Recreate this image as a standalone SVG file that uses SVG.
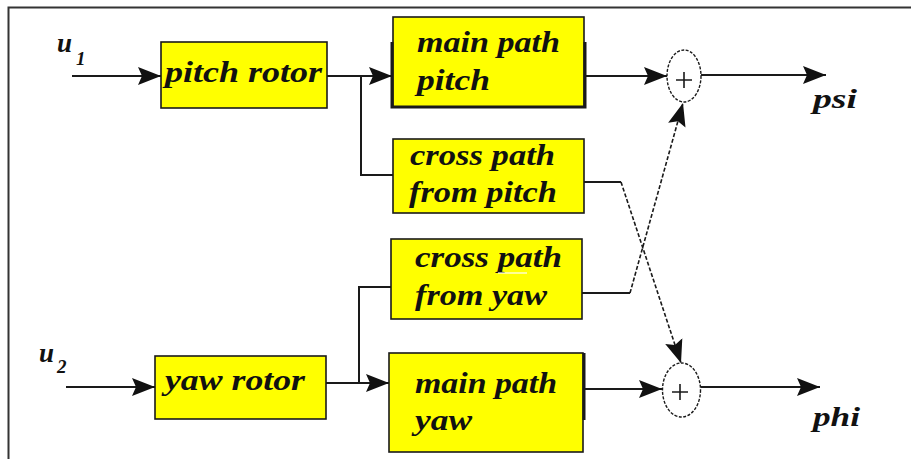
<svg xmlns="http://www.w3.org/2000/svg" width="911" height="459" viewBox="0 0 911 459">
  <style>
    .frame { stroke: #333; stroke-width: 2; fill: none; }
    .box { fill: #ffff00; stroke: #1a1a1a; stroke-width: 1.6; }
    .edge { stroke: #1a1a1a; stroke-width: 3; fill: none; }
    .lbl { font-family: "Liberation Serif", "DejaVu Serif", serif; font-style: italic; font-weight: bold; font-size: 29px; fill: #111; }
    .sig { font-family: "Liberation Serif", "DejaVu Serif", serif; font-style: italic; font-weight: bold; font-size: 27px; fill: #111; }
    .sub { font-family: "Liberation Serif", "DejaVu Serif", serif; font-style: italic; font-weight: bold; font-size: 19px; fill: #111; }
    .wire { stroke: #1a1a1a; stroke-width: 2; fill: none; }
    .dash { stroke: #1a1a1a; stroke-width: 1.6; fill: none; stroke-dasharray: 4 2; }
    .sum { fill: #fff; stroke: #1a1a1a; stroke-width: 1.4; stroke-dasharray: 3 1.5; }
    .plus { stroke: #1a1a1a; stroke-width: 1.6; }
  </style>
  <defs>
    <marker id="arrow" markerUnits="userSpaceOnUse" markerWidth="24" markerHeight="20" viewBox="0 0 24 20" refX="23" refY="10" orient="auto">
      <path d="M0,1 L23,10 L0,19 L4,10 z" fill="#111" stroke="none"/>
    </marker>
  </defs>

  <rect width="911" height="459" fill="#fff"/>
  <!-- outer frame: top and left edges -->
  <path class="frame" d="M911,7.5 H8.5 V459"/>

  <g id="connectors">
    <!-- inputs -->
    <line class="wire" x1="72" y1="76" x2="161" y2="76" marker-end="url(#arrow)"/>
    <line class="wire" x1="66" y1="387" x2="155" y2="387" marker-end="url(#arrow)"/>
    <!-- pitch rotor outputs -->
    <line class="wire" x1="327" y1="76" x2="392" y2="76" marker-end="url(#arrow)"/>
    <polyline class="wire" points="361,76 361,175 393,175"/>
    <!-- yaw rotor outputs -->
    <line class="wire" x1="326" y1="383" x2="389" y2="383" marker-end="url(#arrow)"/>
    <polyline class="wire" points="359,383 359,287 391,287"/>
    <!-- main paths into summers -->
    <line class="wire" x1="586" y1="76" x2="667" y2="76" marker-end="url(#arrow)"/>
    <line class="wire" x1="584" y1="389" x2="662" y2="389" marker-end="url(#arrow)"/>
    <!-- cross paths -->
    <line class="wire" x1="584" y1="182" x2="621" y2="182"/>
    <line class="dash" x1="621" y1="182" x2="681" y2="363" marker-end="url(#arrow)"/>
    <line class="wire" x1="582" y1="293" x2="630" y2="293"/>
    <line class="dash" x1="630" y1="293" x2="683" y2="103" marker-end="url(#arrow)"/>
    <!-- outputs -->
    <line class="wire" x1="701" y1="75" x2="826" y2="75" marker-end="url(#arrow)"/>
    <line class="wire" x1="701" y1="387" x2="820" y2="387" marker-end="url(#arrow)"/>
  </g>

  <g id="pitch-rotor">
    <rect class="box" x="161" y="42" width="166" height="66"/>
    <text class="lbl" x="165" y="82" textLength="157" lengthAdjust="spacingAndGlyphs">pitch rotor</text>
  </g>

  <g id="yaw-rotor">
    <rect class="box" x="155" y="356" width="171" height="63"/>
    <text class="lbl" x="165" y="390" textLength="140" lengthAdjust="spacingAndGlyphs">yaw rotor</text>
  </g>

  <g id="main-path-pitch">
    <rect class="box" x="393" y="17" width="191" height="90"/>
    <path class="edge" d="M392,42 V107 H585 V42"/>
    <text class="lbl" x="417" y="52" textLength="143" lengthAdjust="spacingAndGlyphs">main path</text>
    <text class="lbl" x="417" y="90" textLength="73" lengthAdjust="spacingAndGlyphs">pitch</text>
  </g>

  <g id="cross-path-from-pitch">
    <rect class="box" x="393" y="139" width="191" height="74"/>
    <text class="lbl" x="410" y="165" textLength="145" lengthAdjust="spacingAndGlyphs">cross path</text>
    <text class="lbl" x="409" y="202" textLength="148" lengthAdjust="spacingAndGlyphs">from pitch</text>
  </g>

  <g id="cross-path-from-yaw">
    <rect class="box" x="391" y="239" width="191" height="80"/>
    <text class="lbl" x="415" y="267" textLength="147" lengthAdjust="spacingAndGlyphs">cross path</text>
    <line x1="498" y1="273" x2="527" y2="273" stroke="#fff" stroke-width="1.2"/>
    <text class="lbl" x="415" y="305" textLength="132" lengthAdjust="spacingAndGlyphs">from yaw</text>
  </g>

  <g id="main-path-yaw">
    <rect class="box" x="389" y="353" width="194" height="99"/>
    <line class="edge" x1="584" y1="353" x2="584" y2="420"/>
    <text class="lbl" x="415" y="393" textLength="142" lengthAdjust="spacingAndGlyphs">main path</text>
    <text class="lbl" x="415" y="430" textLength="57" lengthAdjust="spacingAndGlyphs">yaw</text>
  </g>

  <g id="sum-psi">
    <ellipse class="sum" cx="684" cy="76" rx="17" ry="26"/>
    <path class="plus" d="M676,80 H692 M684,72 V88"/>
  </g>

  <g id="sum-phi">
    <ellipse class="sum" cx="681.5" cy="390" rx="19" ry="27"/>
    <path class="plus" d="M672,392 H688 M680,384 V400"/>
  </g>

  <g id="input-u1">
    <text class="sig" x="57" y="52">u</text>
    <text class="sub" x="76" y="65">1</text>
  </g>
  <g id="input-u2">
    <text class="sig" x="39" y="362">u</text>
    <text class="sub" x="57" y="373">2</text>
  </g>
  <g id="output-psi">
    <text class="sig" x="813" y="108" textLength="44" lengthAdjust="spacingAndGlyphs">psi</text>
  </g>
  <g id="output-phi">
    <text class="sig" x="813" y="426" textLength="47" lengthAdjust="spacingAndGlyphs">phi</text>
  </g>
</svg>
